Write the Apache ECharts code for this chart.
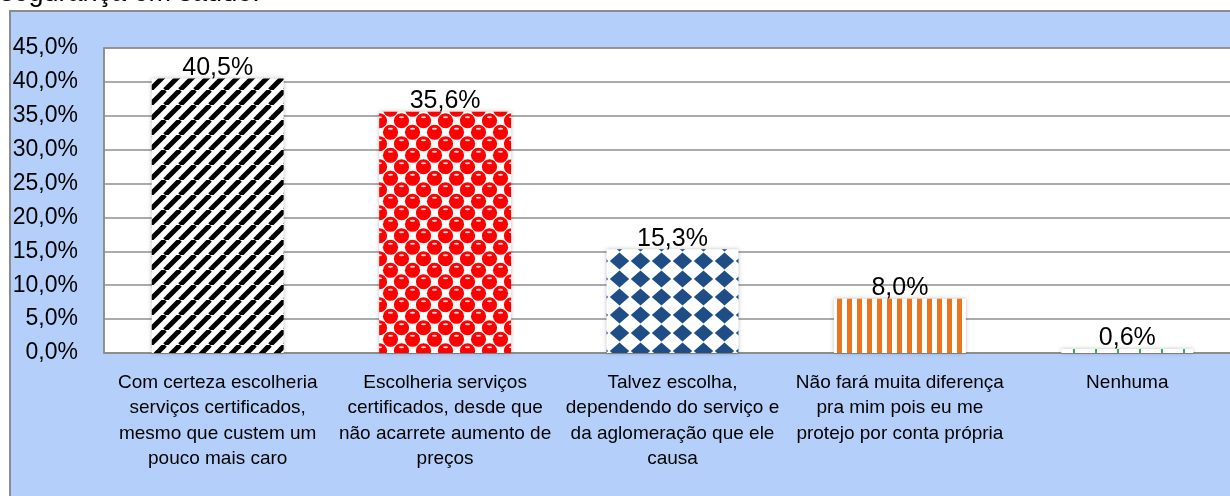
<!DOCTYPE html>
<html><head><meta charset="utf-8">
<script src="https://cdn.jsdelivr.net/npm/echarts@6/dist/echarts.min.js"></script>
<style>html,body{margin:0;padding:0;background:#fff;overflow:hidden}#c{width:1230px;height:496px}</style>
</head><body><div id="c"></div>
<script>
// ---- data ----
const categories = [
  'Com certeza escolheria\nserviços certificados,\nmesmo que custem um\npouco mais caro',
  'Escolheria serviços\ncertificados, desde que\nnão acarrete aumento de\npreços',
  'Talvez escolha,\ndependendo do serviço e\nda aglomeração que ele\ncausa',
  'Não fará muita diferença\npra mim pois eu me\nprotejo por conta própria',
  'Nenhuma'
];
const values = [40.5, 35.6, 15.3, 8.0, 0.6];
const yMin = 0, yMax = 45, yStep = 5;
const topText = 'segurança em saúde.';

// ---- patterns ----
function tile(w, h, draw) {
  const c = document.createElement('canvas');
  c.width = w; c.height = h;
  const g = c.getContext('2d');
  draw(g, w, h);
  return c;
}
const stripes = tile(15, 15, (g, w, h) => {
  g.fillStyle = '#fff'; g.fillRect(0, 0, w, h);
  g.strokeStyle = '#000'; g.lineWidth = 5;
  for (let k = -1; k <= 1; k++) {
    g.beginPath(); g.moveTo(k * w, h); g.lineTo(k * w + w, 0); g.stroke();
  }
});
const redBalls = tile(22, 23, (g, w, h) => {
  g.fillStyle = '#fff'; g.fillRect(0, 0, w, h);
  const centers = [[5.5, 5.75], [16.5, 17.25]];
  g.fillStyle = '#ff0000';
  centers.forEach(([cx, cy]) => {
    for (let dx = -1; dx <= 1; dx++) for (let dy = -1; dy <= 1; dy++) {
      g.beginPath(); g.arc(cx + dx * w, cy + dy * h, 7.6, 0, Math.PI * 2); g.fill();
    }
  });
  g.fillStyle = 'rgba(255,255,255,0.85)';
  centers.forEach(([cx, cy]) => {
    g.beginPath(); g.ellipse(cx, cy - 3.5, 2.6, 1.1, 0, 0, Math.PI * 2); g.fill();
  });
});
const blueDiamonds = tile(21, 18, (g, w, h) => {
  g.fillStyle = '#fff'; g.fillRect(0, 0, w, h);
  g.fillStyle = '#1f4e87';
  g.beginPath();
  g.moveTo(10.5, 0.6); g.lineTo(20.2, 9); g.lineTo(10.5, 17.4); g.lineTo(0.8, 9);
  g.closePath(); g.fill();
});
const orangeStripes = tile(10, 1, (g, w, h) => {
  g.fillStyle = '#fff'; g.fillRect(0, 0, w, h);
  g.fillStyle = '#ea7520'; g.fillRect(7, 0, 3, 1); g.fillRect(0, 0, 2, 1);
});
const greenDots = tile(22, 1, (g, w, h) => {
  g.fillStyle = '#fff'; g.fillRect(0, 0, w, h);
  g.fillStyle = '#2db35d'; g.fillRect(17, 0, 2, 1);
});
const patterns = [stripes, redBalls, blueDiamonds, orangeStripes, greenDots];

const FONT = 'Liberation Sans';
const fmt = v => v.toFixed(1).replace('.', ',') + '%';

const chart = echarts.init(document.getElementById('c'), null, { renderer: 'canvas' });
chart.setOption({
  animation: false,
  textStyle: { fontFamily: FONT },
  graphic: {
    elements: [
      { type: 'rect', z: -10, silent: true,
        shape: { x: 10, y: 11, width: 1400, height: 700 },
        style: { fill: '#b4cff9', stroke: '#8c8c8c', lineWidth: 2 } },
      { type: 'text', z: -5, silent: true, x: 0, y: -6,
        style: { text: topText, font: '27px "Liberation Sans"', fill: '#000', verticalAlign: 'middle', align: 'left' } }
    ]
  },
  grid: {
    left: 104, top: 48, width: 1137, bottom: 143,
    outerBoundsMode: 'none', containLabel: false,
    show: true, backgroundColor: '#fff', borderColor: '#8c8c8c', borderWidth: 1.5
  },
  xAxis: {
    type: 'category', data: categories,
    axisLine: { show: true, lineStyle: { color: '#8c8c8c', width: 1.5 } },
    axisTick: { show: false },
    axisLabel: { interval: 0, fontSize: 19, lineHeight: 25.5, color: '#000', margin: 17, fontFamily: FONT }
  },
  yAxis: {
    type: 'value', min: yMin, max: yMax, interval: yStep,
    axisLine: { show: true, lineStyle: { color: '#8c8c8c', width: 1.5 } },
    axisTick: { show: false },
    splitLine: { lineStyle: { color: '#8f8f8f', width: 1.5 } },
    axisLabel: { fontSize: 23, color: '#000', margin: 26, fontFamily: FONT, formatter: v => fmt(v) }
  },
  series: [{
    type: 'bar',
    barWidth: '58%',
    data: values.map((v, i) => ({
      value: v,
      itemStyle: {
        color: { image: patterns[i], repeat: 'repeat' },
        shadowBlur: 4, shadowColor: 'rgba(0,0,0,0.25)'
      }
    })),
    label: {
      show: true, position: 'top', distance: 0, offset: [0, 2],
      fontSize: 25, color: '#000', fontFamily: FONT,
      formatter: p => fmt(p.value)
    }
  }]
});
</script>
</body></html>
